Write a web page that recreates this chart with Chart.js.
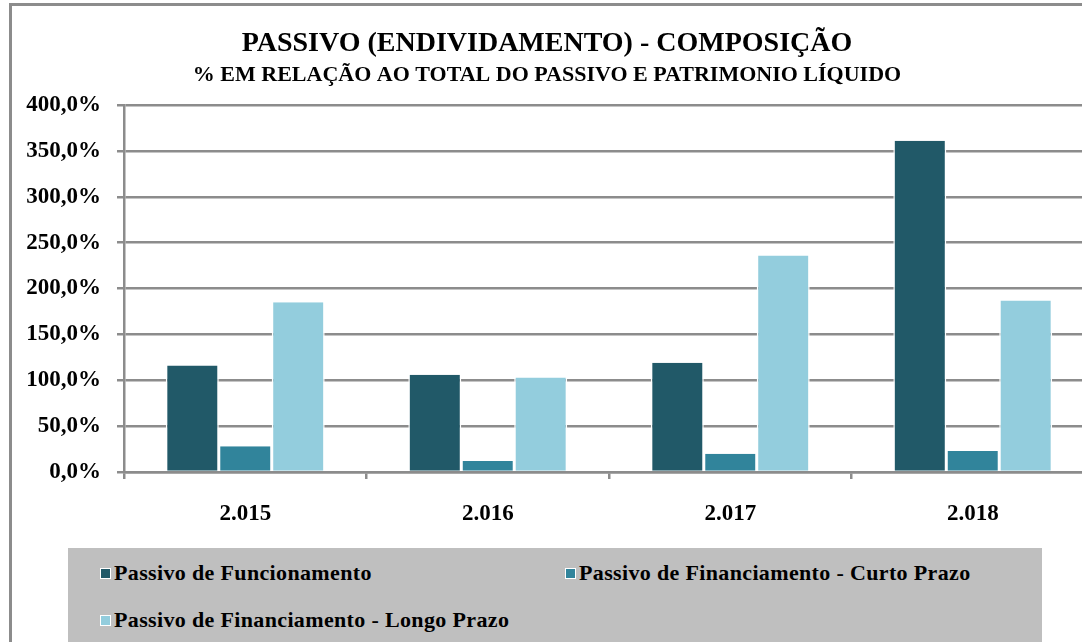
<!DOCTYPE html>
<html>
<head>
<meta charset="utf-8">
<script src="https://cdn.jsdelivr.net/npm/chart.js@4"></script>
<style>
    html, body { margin: 0; padding: 0; background: #fff; overflow: hidden; }
    #frame {
        position: absolute; left: 9px; top: 3px;
        width: 1200px; height: 800px;
        border: 3px solid #8c8c8c; box-sizing: border-box;
    }
    #wrap { position: absolute; left: 0; top: 0; width: 1110px; height: 642px; }
    #legendBox {
        position: absolute; left: 68px; top: 548px; width: 974px; height: 120px;
        background: #bfbfbf;
    }
    .leg-item {
        position: absolute; display: flex; align-items: center; white-space: nowrap;
        font: bold 22px "Liberation Serif", serif; color: #000; line-height: 26px;
        letter-spacing: 0.35px;
    }
    .leg-swatch {
        width: 9px; height: 9px; border: 1.5px solid #fff; margin-right: 3px;
    }
</style>
</head>
<body>
<div id="frame"></div>
<div id="wrap"><canvas id="passivoChart" width="1110" height="642"></canvas></div>
<div id="legendBox"></div>

<script>
// Categories and series
const years = ['2.015', '2.016', '2.017', '2.018'];
const seriesNames = [
    'Passivo de Funcionamento',
    'Passivo de Financiamento - Curto Prazo',
    'Passivo de Financiamento - Longo Prazo'
];
const funcionamento = [116, 106, 119, 361];
const curtoPrazo = [28, 12, 20, 23];
const longoPrazo = [185, 103, 236, 187];
const seriesColors = ['#215968', '#31849b', '#93cddd'];
const yTicks = [0, 50, 100, 150, 200, 250, 300, 350, 400];

const serifBold = { family: '"Liberation Serif", serif', weight: 'bold' };
const gridGray = '#8c8c8c';

function formatPercent(v) {
    return v.toFixed(1).replace('.', ',') + '%';
}

const datasets = [funcionamento, curtoPrazo, longoPrazo].map((values, i) => ({
    label: seriesNames[i],
    data: values,
    backgroundColor: seriesColors[i],
    borderColor: '#ffffff',
    borderWidth: { top: 0, left: 1.5, right: 1.5, bottom: 0 },
    borderSkipped: false,
    categoryPercentage: 0.655,
    barPercentage: 1.0
}));

const ctx = document.getElementById('passivoChart').getContext('2d');
const chart = new Chart(ctx, {
    type: 'bar',
    data: { labels: years, datasets },
    options: {
        responsive: false,
        animation: false,
        layout: { padding: { left: 0, right: 16, top: 0, bottom: 0 } },
        plugins: {
            legend: { display: false },
            tooltip: { enabled: false },
            title: {
                display: true,
                text: 'PASSIVO (ENDIVIDAMENTO) - COMPOSIÇÃO',
                color: '#000',
                font: { ...serifBold, size: 28, lineHeight: 1.2 },
                padding: { top: 27, bottom: 2 }
            },
            subtitle: {
                display: true,
                text: '% EM RELAÇÃO AO TOTAL DO PASSIVO E PATRIMONIO LÍQUIDO',
                color: '#000',
                font: { ...serifBold, size: 22, lineHeight: 1.2 },
                padding: { top: 0, bottom: 16 }
            }
        },
        scales: {
            x: {
                grid: {
                    display: true,
                    drawOnChartArea: false,
                    offset: true,
                    color: gridGray,
                    lineWidth: 2.5,
                    tickLength: 7
                },
                border: { display: true, color: gridGray, width: 2.5 },
                ticks: {
                    color: '#000',
                    font: { ...serifBold, size: 23 },
                    padding: 21
                },
                afterFit: s => { s.height = 170; }
            },
            y: {
                min: 0,
                max: 400,
                afterBuildTicks: s => { s.ticks = yTicks.map(v => ({ value: v })); },
                grid: {
                    color: gridGray,
                    lineWidth: 2.5,
                    tickLength: 7
                },
                border: { display: true, color: gridGray, width: 2.5 },
                ticks: {
                    color: '#000',
                    font: { ...serifBold, size: 23 },
                    padding: 16,
                    callback: v => formatPercent(v)
                },
                afterFit: s => { s.width = 124; }
            }
        }
    }
});

// Legend in the grey box below the plot, built from the chart's datasets
const legendBox = document.getElementById('legendBox');
const legendSpots = [[32, 25], [497, 25], [32, 72]];
chart.data.datasets.forEach((ds, i) => {
    const item = document.createElement('div');
    item.className = 'leg-item';
    item.style.left = legendSpots[i][0] + 'px';
    item.style.top = (legendSpots[i][1] - 13) + 'px';
    const sw = document.createElement('span');
    sw.className = 'leg-swatch';
    sw.style.background = ds.backgroundColor;
    item.appendChild(sw);
    item.appendChild(document.createTextNode(ds.label));
    legendBox.appendChild(item);
});
</script>
</body>
</html>
